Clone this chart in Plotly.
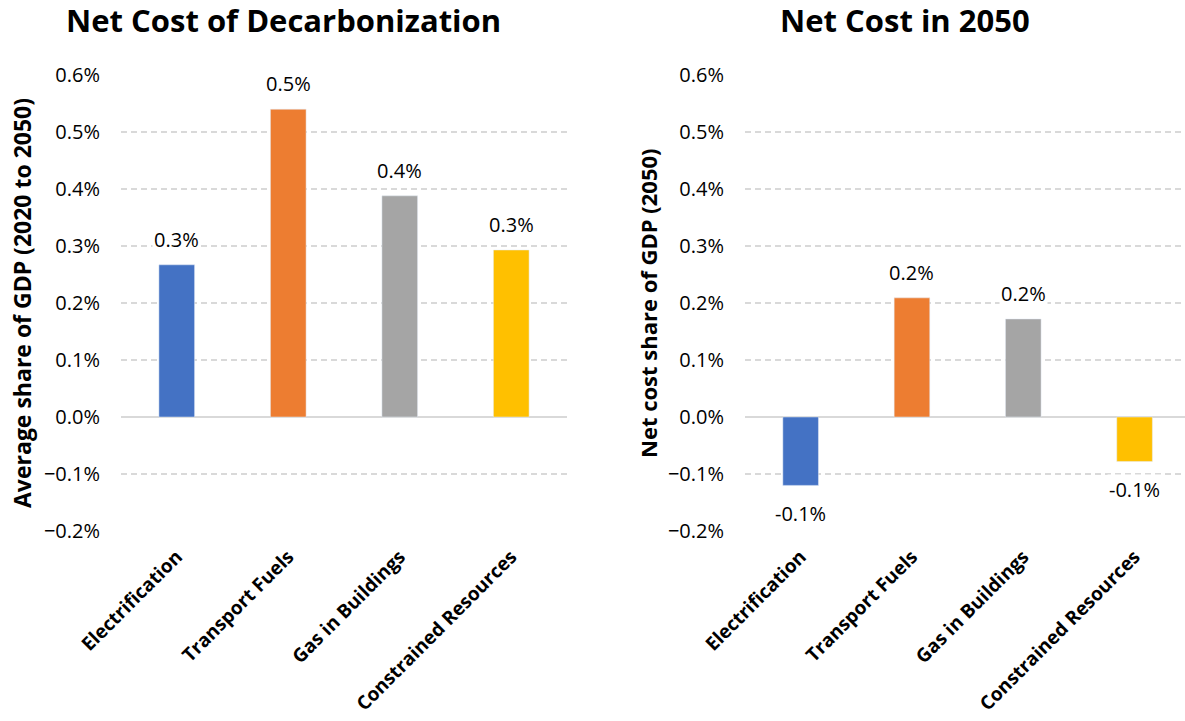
import plotly.graph_objects as go

# Categories and values (share of GDP, as fractions)
categories = ["Electrification", "Transport Fuels", "Gas in Buildings", "Constrained Resources"]
avg_share_2020_2050 = [0.00267, 0.00540, 0.00388, 0.00293]
net_share_2050 = [-0.00120, 0.00209, 0.00172, -0.00078]
bar_colors = ["#4472C4", "#ED7D31", "#A5A5A5", "#FFC000"]

y_ticks = [-0.002, -0.001, 0.0, 0.001, 0.002, 0.003, 0.004, 0.005, 0.006]

W, H = 1185, 721
FONT = "Open Sans"

fig = go.Figure()

fig.add_trace(go.Bar(x=categories, y=avg_share_2020_2050, marker_color=bar_colors,
                     width=0.32, xaxis="x", yaxis="y", showlegend=False, hoverinfo="skip"))
fig.add_trace(go.Bar(x=categories, y=net_share_2050, marker_color=bar_colors,
                     width=0.32, xaxis="x2", yaxis="y2", showlegend=False, hoverinfo="skip"))

y_top, y_bot = 75, 531
ydom = [1 - y_bot / H, 1 - y_top / H]

yaxis_common = dict(
    range=[-0.002, 0.006], tickvals=y_ticks, tickformat=".1%",
    showgrid=True, gridcolor="#d9d9d9", gridwidth=1.5, griddash="6px,4px",
    zeroline=True, zerolinecolor="#d9d9d9", zerolinewidth=2,
    showline=False, ticks="", ticklabelstandoff=20, automargin=False,
    tickfont=dict(family=FONT, size=20, color="#000000"),
    domain=ydom, fixedrange=True,
)
xaxis_common = dict(
    type="category", showgrid=False, zeroline=False, showline=False, ticks="",
    tickangle=-45, automargin=False, ticklabelstandoff=10,
    tickfont=dict(family=FONT, size=19, color="#000000", weight="bold"),
    fixedrange=True,
)

fig.update_layout(
    width=W, height=H,
    margin=dict(l=0, r=0, t=0, b=0),
    paper_bgcolor="white", plot_bgcolor="white",
    xaxis=dict(xaxis_common, domain=[121 / W, 567 / W], range=[-0.5, 3.5], anchor="y"),
    yaxis=dict(yaxis_common, anchor="x"),
    xaxis2=dict(xaxis_common, domain=[745 / W, 1.0], range=[-0.5, 3.453], anchor="y2"),
    yaxis2=dict(yaxis_common, anchor="x2"),
)

annotations = []
# Data labels drawn from the same values as the bars
for xref, yref, vals in (("x", "y", avg_share_2020_2050), ("x2", "y2", net_share_2050)):
    for cat, v in zip(categories, vals):
        pos = v >= 0
        annotations.append(dict(
            x=cat, y=v, xref=xref, yref=yref, text=f"{v:.1%}", showarrow=False,
            yanchor="bottom" if pos else "top", yshift=10 if pos else -13,
            bgcolor="white", font=dict(family=FONT, size=20, color="#000000"),
        ))

# Chart titles
annotations.append(dict(x=283 / W, y=1 - 20 / H, xref="paper", yref="paper",
                        text="<b>Net Cost of Decarbonization</b>", showarrow=False,
                        xanchor="center", yanchor="middle",
                        font=dict(family=FONT, size=31, color="#000000")))
annotations.append(dict(x=905 / W, y=1 - 20 / H, xref="paper", yref="paper",
                        text="<b>Net Cost in 2050</b>", showarrow=False,
                        xanchor="center", yanchor="middle",
                        font=dict(family=FONT, size=31, color="#000000")))

# Axis titles
yc = 1 - ((y_top + y_bot) / 2) / H
annotations.append(dict(x=22 / W, y=yc, xref="paper", yref="paper",
                        text="<b>Average share of GDP (2020 to 2050)</b>", textangle=-90,
                        showarrow=False, xanchor="center", yanchor="middle",
                        font=dict(family=FONT, size=23, color="#000000")))
annotations.append(dict(x=648 / W, y=yc, xref="paper", yref="paper",
                        text="<b>Net cost share of GDP (2050)</b>", textangle=-90,
                        showarrow=False, xanchor="center", yanchor="middle",
                        font=dict(family=FONT, size=22, color="#000000")))

fig.update_layout(annotations=annotations)

fig.write_html("out.html", config={"displayModeBar": False})
